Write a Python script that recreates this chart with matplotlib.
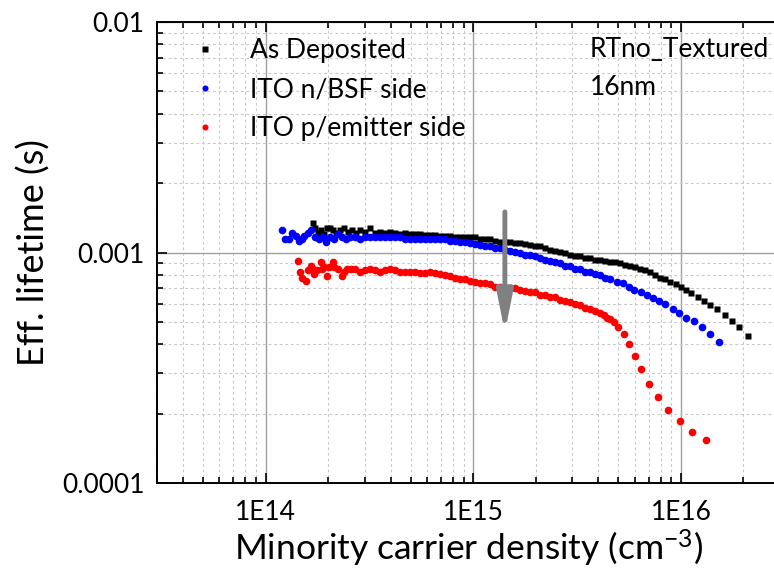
import numpy as np
import matplotlib
matplotlib.use("Agg")
import matplotlib.pyplot as plt
from matplotlib.ticker import FixedLocator, FixedFormatter, LogLocator, NullFormatter

plt.rcParams['font.family'] = ['Lato', 'DejaVu Sans']
plt.rcParams['mathtext.fontset'] = 'custom'
plt.rcParams['mathtext.rm'] = 'Lato'
plt.rcParams['mathtext.default'] = 'regular'

# --- data ---
# carrier density in cm^-3, lifetime in ms
dep_n = [1.683e14, 1.739e14, 1.798e14, 1.858e14, 1.921e14, 1.987e14, 2.053e14, 2.123e14, 2.194e14, 2.294e14,
         2.397e14, 2.506e14, 2.620e14, 2.739e14, 2.864e14, 3.026e14, 3.199e14, 3.381e14, 3.573e14, 3.776e14,
         3.991e14, 4.219e14, 4.459e14, 4.713e14, 4.981e14, 5.265e14, 5.564e14, 5.881e14, 6.216e14, 6.570e14,
         6.944e14, 7.339e14, 7.757e14, 8.199e14, 8.66e14, 9.16e14, 9.68e14, 1.023e15, 1.081e15, 1.143e15,
         1.208e15, 1.276e15, 1.349e15, 1.426e15, 1.507e15, 1.593e15, 1.683e15, 1.779e15, 1.880e15, 1.987e15,
         2.100e15, 2.220e15, 2.346e15, 2.480e15, 2.621e15, 2.770e15, 2.928e15, 3.095e15, 3.271e15, 3.457e15,
         3.65e15, 3.86e15, 4.08e15, 4.31e15, 4.56e15, 4.82e15, 5.09e15, 5.38e15, 5.69e15, 6.01e15,
         6.35e15, 6.71e15, 7.10e15, 7.50e15, 7.93e15, 8.38e15, 8.85e15, 9.46e15, 1.00e16, 1.057e16,
         1.117e16, 1.207e16, 1.290e16, 1.378e16, 1.489e16, 1.63e16, 1.758e16, 1.90e16, 2.10e16]
dep_tau = [1.349, 1.271, 1.221, 1.246, 1.209, 1.271, 1.283, 1.258, 1.221, 1.246,
           1.271, 1.233, 1.258, 1.221, 1.258, 1.233, 1.271, 1.221, 1.233, 1.221,
           1.233, 1.221, 1.209, 1.221, 1.209, 1.209, 1.209, 1.197, 1.197, 1.197,
           1.185, 1.185, 1.185, 1.173, 1.173, 1.173, 1.162, 1.162, 1.150, 1.150,
           1.139, 1.127, 1.116, 1.116, 1.116, 1.105, 1.105, 1.094, 1.083, 1.072,
           1.062, 1.051, 1.030, 1.020, 1.010, 1.000, 0.980, 0.970, 0.961, 0.951,
           0.942, 0.932, 0.932, 0.923, 0.914, 0.905, 0.896, 0.887, 0.870, 0.861,
           0.852, 0.836, 0.819, 0.795, 0.779, 0.764, 0.748, 0.727, 0.712, 0.691,
           0.664, 0.638, 0.613, 0.589, 0.566, 0.538, 0.507, 0.473, 0.436]

bsf_n = [1.194e14, 1.234e14, 1.290e14, 1.348e14, 1.394e14, 1.441e14, 1.490e14, 1.539e14, 1.592e14, 1.664e14,
         1.739e14, 1.818e14, 1.900e14, 1.965e14, 2.053e14, 2.147e14, 2.244e14, 2.346e14, 2.452e14, 2.563e14,
         2.709e14, 2.864e14, 3.026e14, 3.199e14, 3.381e14, 3.573e14, 3.776e14, 3.991e14, 4.219e14, 4.459e14,
         4.713e14, 4.981e14, 5.265e14, 5.564e14, 5.881e14, 6.216e14, 6.570e14, 6.944e14, 7.339e14, 7.757e14,
         8.199e14, 8.66e14, 9.16e14, 9.68e14, 1.023e15, 1.081e15, 1.143e15, 1.208e15, 1.276e15, 1.349e15,
         1.426e15, 1.507e15, 1.593e15, 1.683e15, 1.779e15, 1.880e15, 1.987e15, 2.100e15, 2.220e15, 2.346e15,
         2.480e15, 2.621e15, 2.770e15, 2.928e15, 3.095e15, 3.271e15, 3.457e15, 3.65e15, 3.86e15, 4.08e15,
         4.31e15, 4.56e15, 4.92e15, 5.26e15, 5.62e15, 5.94e15, 6.42e15, 6.86e15, 7.34e15, 7.84e15,
         8.38e15, 9.15e15, 9.78e15, 1.057e16, 1.155e16, 1.262e16, 1.378e16, 1.523e16]
bsf_tau = [1.246, 1.139, 1.139, 1.221, 1.185, 1.127, 1.150, 1.185, 1.221, 1.258,
           1.162, 1.150, 1.162, 1.116, 1.162, 1.139, 1.209, 1.162, 1.150, 1.162,
           1.173, 1.150, 1.162, 1.162, 1.173, 1.162, 1.162, 1.162, 1.162, 1.162,
           1.150, 1.150, 1.150, 1.150, 1.150, 1.139, 1.139, 1.139, 1.139, 1.127,
           1.127, 1.116, 1.116, 1.105, 1.094, 1.083, 1.072, 1.062, 1.051, 1.041,
           1.030, 1.020, 1.010, 1.000, 0.980, 0.971, 0.961, 0.951, 0.932, 0.923,
           0.905, 0.896, 0.878, 0.870, 0.852, 0.844, 0.827, 0.819, 0.803, 0.795,
           0.779, 0.771, 0.748, 0.734, 0.712, 0.691, 0.677, 0.651, 0.632, 0.613,
           0.595, 0.571, 0.549, 0.522, 0.502, 0.473, 0.445, 0.411]

emi_n = [1.425e14, 1.457e14, 1.490e14, 1.574e14, 1.592e14, 1.646e14, 1.683e14, 1.720e14, 1.778e14, 1.858e14,
         1.879e14, 1.921e14, 1.987e14, 2.031e14, 2.123e14, 2.147e14, 2.244e14, 2.346e14, 2.397e14, 2.479e14,
         2.592e14, 2.709e14, 2.864e14, 3.026e14, 3.199e14, 3.381e14, 3.573e14, 3.776e14, 3.991e14, 4.219e14,
         4.459e14, 4.713e14, 4.981e14, 5.265e14, 5.564e14, 5.881e14, 6.216e14, 6.570e14, 6.944e14, 7.339e14,
         7.757e14, 8.199e14, 8.66e14, 9.16e14, 9.68e14, 1.023e15, 1.081e15, 1.143e15, 1.208e15, 1.276e15,
         1.349e15, 1.426e15, 1.507e15, 1.593e15, 1.683e15, 1.779e15, 1.880e15, 1.987e15, 2.100e15, 2.220e15,
         2.346e15, 2.480e15, 2.621e15, 2.770e15, 2.928e15, 3.095e15, 3.271e15, 3.457e15, 3.65e15, 3.86e15,
         4.08e15, 4.264e15, 4.41e15, 4.56e15, 4.76e15, 4.98e15, 5.32e15, 5.62e15, 6.01e15, 6.42e15,
         7.02e15, 7.75e15, 8.66e15, 9.89e15, 1.129e16, 1.319e16]
emi_tau = [0.923, 0.827, 0.779, 0.756, 0.836, 0.870, 0.844, 0.803, 0.836, 0.905,
           0.852, 0.861, 0.787, 0.861, 0.905, 0.861, 0.852, 0.787, 0.819, 0.844,
           0.852, 0.844, 0.827, 0.836, 0.844, 0.836, 0.827, 0.836, 0.844, 0.836,
           0.827, 0.827, 0.819, 0.819, 0.811, 0.811, 0.819, 0.811, 0.803, 0.795,
           0.787, 0.779, 0.771, 0.764, 0.756, 0.748, 0.741, 0.734, 0.727, 0.712,
           0.705, 0.698, 0.698, 0.698, 0.691, 0.684, 0.677, 0.671, 0.657, 0.651,
           0.644, 0.638, 0.625, 0.619, 0.607, 0.595, 0.589, 0.577, 0.566, 0.555,
           0.544, 0.533, 0.522, 0.517, 0.497, 0.473, 0.441, 0.399, 0.357, 0.311,
           0.270, 0.235, 0.208, 0.185, 0.167, 0.153]

x_major = [1e14, 1e15, 1e16]
x_labels = ['1E14', '1E15', '1E16']
y_major = [1e-4, 1e-3, 1e-2]
y_labels = ['0.0001', '0.001', '0.01']

fig = plt.figure(figsize=(7.74, 5.74), dpi=100)
ax = fig.add_axes([0.2028, 0.1585, 0.805, 0.8032])

ax.plot(dep_n, np.array(dep_tau) * 1e-3, 's', color='black', ms=5, mec='none', label='As Deposited', zorder=3)
ax.plot(bsf_n, np.array(bsf_tau) * 1e-3, 'o', color='#0000ff', ms=5.5, mec='none', label='ITO n/BSF side', zorder=3)
ax.plot(emi_n, np.array(emi_tau) * 1e-3, 'o', color='#ff0000', ms=5.5, mec='none', label='ITO p/emitter side', zorder=3)

ax.set_xscale('log')
ax.set_yscale('log')
ax.set_xlim(3e13, 3e16)
ax.set_ylim(1e-4, 1e-2)

ax.xaxis.set_major_locator(FixedLocator(x_major))
ax.xaxis.set_major_formatter(FixedFormatter(x_labels))
ax.yaxis.set_major_locator(FixedLocator(y_major))
ax.yaxis.set_major_formatter(FixedFormatter(y_labels))
ax.xaxis.set_minor_locator(LogLocator(base=10, subs=np.arange(2, 10), numticks=20))
ax.yaxis.set_minor_locator(LogLocator(base=10, subs=np.arange(2, 10), numticks=20))
ax.xaxis.set_minor_formatter(NullFormatter())
ax.yaxis.set_minor_formatter(NullFormatter())

ax.grid(True, which='major', color='#a0a0a0', lw=1.0, ls='-')
ax.grid(True, which='minor', color='#c8c8c8', lw=0.8, ls=(0, (2.5, 2.5)))
ax.set_axisbelow(True)

ax.tick_params(which='both', direction='in', top=True, right=False, width=1.2, labelsize=19)
ax.tick_params(which='major', length=7)
ax.tick_params(which='minor', length=4)
ax.tick_params(axis='x', pad=12)
ax.tick_params(axis='y', pad=9)
for s in ['left', 'bottom', 'top']:
    ax.spines[s].set_linewidth(1.4)
ax.spines['right'].set_visible(False)

ax.set_xlabel('Minority carrier density (cm$^{-3}$)', fontsize=25.5, labelpad=2)
ax.set_ylabel('Eff. lifetime (s)', fontsize=26, labelpad=8)

ax.legend(loc='upper left', bbox_to_anchor=(0.056, 0.965), frameon=False, fontsize=19,
          borderpad=0, borderaxespad=0, handletextpad=1.2, labelspacing=0.53,
          markerscale=0.8, handlelength=1.0)

ax.text(0.695, 0.941, 'RTno_Textured', transform=ax.transAxes, fontsize=19, va='center')
ax.text(0.695, 0.857, '16nm', transform=ax.transAxes, fontsize=19, va='center')

# trend arrow
ax.annotate('', xy=(1.42e15, 4.5e-4), xytext=(1.42e15, 1.5e-3),
            arrowprops=dict(arrowstyle='-|>,head_width=0.2,head_length=1.0', color='#808080',
                            lw=3.5, mutation_scale=24, shrinkA=0, shrinkB=0), zorder=4)

plt.savefig('out.png', dpi=100)
